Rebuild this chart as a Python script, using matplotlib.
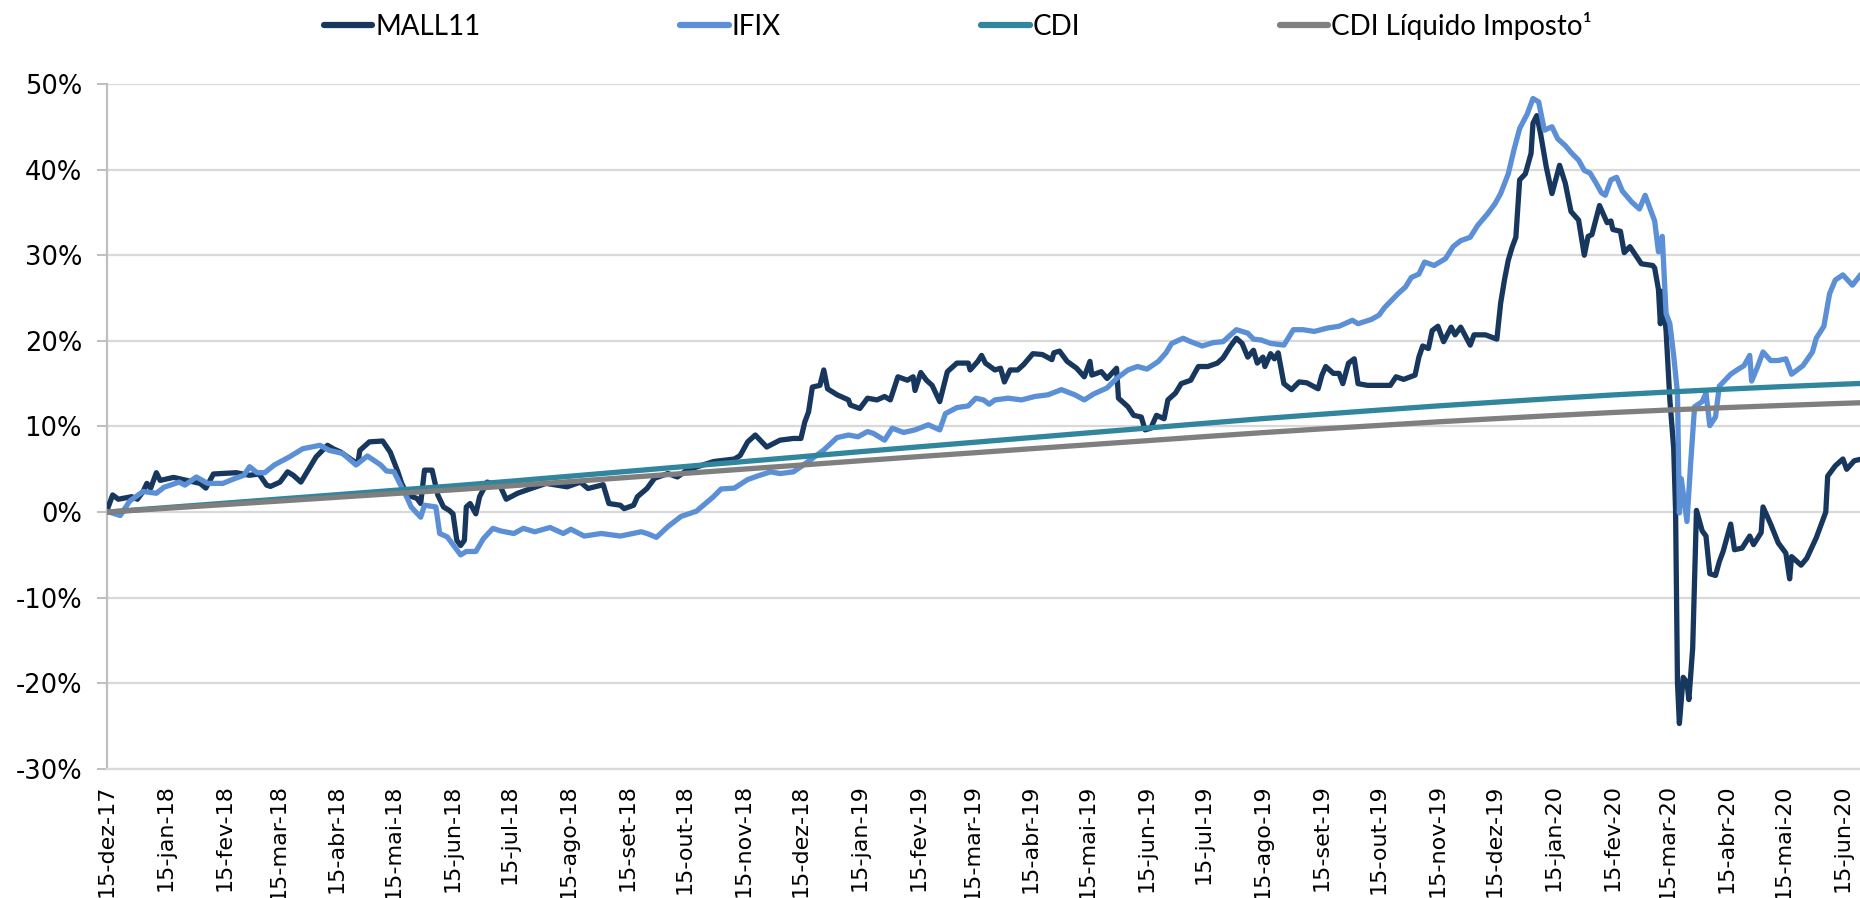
import matplotlib
matplotlib.use('Agg')
import matplotlib.pyplot as plt
from matplotlib.ticker import FuncFormatter
import pandas as pd

BASE = pd.Timestamp('2017-12-15')
X_END_DAYS = 922  # right edge of the visible window

# MALL11: days since 15-dez-17, cumulative return (%)
mall_days = [0, 3, 6, 13, 16, 19, 21, 23, 26, 28, 35, 40, 49, 52, 56, 68, 75, 80, 84, 86,
             91, 95, 98, 102, 110, 116, 119, 123, 130, 132, 133, 138, 145, 149, 153, 155,
             158, 163, 165, 167, 171, 174, 177, 180, 182, 184, 186, 188, 189, 191, 194, 196,
             200, 207, 210, 216, 223, 231, 242, 249, 253, 261, 264, 270, 272, 277, 279, 284,
             288, 295, 300, 305, 319, 330, 333, 337, 341, 347, 354, 361, 365, 367, 369, 371,
             375, 377, 379, 384, 390, 391, 396, 400, 405, 409, 412, 416, 421, 424, 425, 428,
             431, 434, 438, 442, 447, 453, 454, 458, 460, 462, 467, 470, 472, 475, 479, 482,
             487, 492, 497, 498, 501, 505, 510, 514, 517, 518, 523, 526, 531, 532, 537, 540,
             544, 546, 549, 552, 556, 558, 562, 565, 570, 574, 579, 584, 587, 591, 594, 597,
             600, 603, 605, 608, 609, 612, 614, 616, 619, 623, 627, 631, 637, 639, 641, 645,
             648, 650, 653, 656, 658, 663, 670, 675, 678, 682, 688, 690, 692, 695, 697, 700,
             703, 707, 709, 712, 717, 719, 725, 731, 733, 735, 737, 739, 741, 743, 746, 749,
             750, 752, 754, 757, 760, 764, 767, 770, 774, 777, 779, 781, 785, 789, 791, 792,
             796, 798, 801, 807, 813, 814, 816, 817, 818, 820, 822, 824, 825, 826, 827, 829,
             831, 832, 834, 836, 839, 841, 843, 846, 848, 850, 854, 856, 860, 864, 866, 870,
             871, 875, 879, 883, 885, 886, 891, 894, 899, 904, 905, 909, 913, 915, 919, 923, 927]
mall_vals = [0.2, 2.0, 1.5, 1.8, 1.5, 2.4, 3.35, 2.8, 4.6, 3.7, 4.05, 3.8, 3.35, 2.8, 4.45, 4.6,
             4.3, 4.45, 3.15, 3.0, 3.5, 4.7, 4.3, 3.5, 6.45, 7.8, 7.4, 7.0, 5.9, 5.7, 7.2, 8.2,
             8.3, 7.0, 4.7, 3.35, 2.0, 1.6, 1.0, 4.9, 4.9, 2.0, 0.6, 0.2, -0.2, -3.3, -3.9, -3.3,
             0.6, 1.0, -0.2, 1.8, 3.5, 2.95, 1.5, 2.2, 2.75, 3.35, 2.95, 3.5, 2.75, 3.2, 1.0, 0.8,
             0.4, 0.8, 1.8, 2.75, 3.95, 4.5, 4.1, 4.9, 5.9, 6.2, 6.6, 8.2, 9.0, 7.6, 8.4, 8.6,
             8.6, 10.5, 11.7, 14.6, 14.8, 16.6, 14.4, 13.7, 13.1, 12.5, 12.1, 13.3, 13.1, 13.5,
             13.1, 15.8, 15.4, 15.8, 14.2, 16.3, 15.4, 14.8, 12.9, 16.4, 17.4, 17.4, 16.6, 17.6,
             18.3, 17.4, 16.6, 16.8, 15.2, 16.6, 16.6, 17.2, 18.5, 18.4, 17.8, 18.6, 18.8, 17.6,
             16.8, 15.8, 17.6, 16.0, 16.4, 15.6, 16.8, 13.3, 12.3, 11.3, 11.1, 9.6, 9.8, 11.3,
             10.9, 13.1, 13.9, 15.0, 15.4, 17.0, 17.0, 17.4, 18.0, 19.4, 20.3, 19.7, 18.1, 18.9,
             17.4, 18.1, 17.0, 18.5, 17.9, 18.6, 15.0, 14.3, 15.2, 15.1, 14.4, 16.0, 17.0, 16.2,
             16.2, 15.0, 17.4, 17.9, 15.0, 14.8, 14.8, 14.8, 15.8, 15.5, 16.0, 18.1, 19.4, 19.1,
             21.2, 21.7, 19.9, 21.6, 20.7, 21.6, 19.5, 20.7, 20.7, 20.2, 24.4, 27.1, 29.4, 30.9,
             32.1, 38.8, 39.5, 41.9, 45.4, 46.3, 44.2, 40.3, 37.2, 40.5, 38.4, 35.1, 34.1, 30.0,
             32.2, 32.4, 35.8, 33.8, 34.0, 33.0, 32.8, 30.3, 31.0, 29.0, 28.8, 28.5, 26.0, 22.0,
             25.8, 21.2, 13.1, 7.5, 0.2, -19.9, -24.7, -19.3, -19.9, -21.9, -15.9, 0.2, -2.2,
             -2.8, -7.2, -7.4, -5.8, -4.6, -1.4, -4.4, -4.2, -2.8, -3.8, -2.4, 0.6, -1.4, -3.6,
             -4.8, -7.8, -5.2, -6.2, -5.4, -3.0, 0.0, 4.2, 5.4, 6.2, 5.0, 6.0, 6.2, 4.6]

# IFIX: days since 15-dez-17, cumulative return (%)
ifix_days = [0, 7, 12, 19, 26, 30, 38, 41, 47, 53, 61, 67, 72, 75, 79, 83, 88, 96, 103, 112,
             117, 124, 131, 137, 144, 147, 151, 154, 158, 160, 165, 167, 173, 175, 179, 186,
             189, 194, 198, 203, 207, 214, 219, 225, 233, 240, 244, 251, 260, 270, 281, 284,
             289, 295, 302, 310, 319, 323, 330, 337, 342, 349, 354, 361, 365, 370, 377, 384,
             390, 395, 400, 403, 409, 413, 419, 425, 432, 438, 441, 447, 453, 457, 461, 464,
             467, 474, 481, 488, 495, 502, 509, 514, 519, 526, 531, 537, 542, 547, 553, 557,
             560, 566, 570, 576, 582, 587, 594, 600, 603, 607, 612, 619, 624, 629, 635, 642,
             648, 655, 658, 665, 669, 672, 679, 683, 686, 690, 693, 698, 704, 708, 712, 717,
             721, 726, 730, 733, 737, 740, 743, 747, 750, 753, 756, 760, 763, 767, 770, 774,
             777, 780, 783, 786, 788, 791, 794, 797, 802, 806, 809, 814, 816, 818, 820, 822,
             824, 826, 827, 828, 831, 833, 835, 839, 841, 843, 846, 848, 854, 858, 861, 864,
             865, 868, 871, 875, 879, 883, 886, 892, 897, 899, 903, 906, 909, 913, 918, 923, 927]
ifix_vals = [0.1, -0.4, 1.3, 2.4, 2.2, 2.9, 3.5, 3.15, 4.1, 3.35, 3.35, 3.9, 4.3, 5.3, 4.6, 4.6,
             5.5, 6.45, 7.4, 7.8, 7.2, 6.85, 5.5, 6.55, 5.5, 4.8, 4.7, 3.35, 1.6, 0.6, -0.6, 0.8,
             0.6, -2.5, -2.9, -5.0, -4.6, -4.6, -3.1, -1.9, -2.2, -2.5, -1.9, -2.3, -1.8, -2.5,
             -2.0, -2.8, -2.5, -2.8, -2.3, -2.5, -2.95, -1.7, -0.5, 0.1, 1.8, 2.7, 2.8, 3.8, 4.2,
             4.7, 4.5, 4.7, 5.3, 6.1, 7.25, 8.7, 9.0, 8.8, 9.4, 9.2, 8.4, 9.8, 9.3, 9.6, 10.2,
             9.6, 11.5, 12.2, 12.4, 13.3, 13.1, 12.6, 13.1, 13.3, 13.1, 13.5, 13.7, 14.3, 13.7,
             13.1, 13.8, 14.5, 15.6, 16.6, 17.0, 16.7, 17.6, 18.6, 19.7, 20.3, 19.9, 19.4, 19.8,
             19.9, 21.3, 20.9, 20.2, 20.1, 19.7, 19.5, 21.3, 21.3, 21.1, 21.5, 21.7, 22.4, 22.0,
             22.5, 23.0, 23.9, 25.5, 26.3, 27.4, 27.8, 29.2, 28.8, 29.6, 31.0, 31.7, 32.1, 33.5,
             34.8, 36.0, 37.2, 39.5, 42.3, 44.8, 46.5, 48.3, 47.9, 44.6, 45.0, 43.6, 42.8, 42.0,
             41.1, 39.9, 39.6, 38.5, 37.3, 37.0, 38.8, 39.1, 37.5, 36.2, 35.4, 37.0, 34.0, 30.4,
             32.2, 23.2, 22.0, 18.3, 13.9, -0.1, 3.9, -1.1, 5.9, 12.3, 12.9, 13.9, 10.1, 11.1,
             14.7, 16.1, 16.7, 17.1, 18.3, 15.3, 16.9, 18.7, 17.7, 17.7, 17.9, 16.1, 17.1, 18.7,
             20.3, 21.7, 25.5, 27.1, 27.7, 26.5, 27.9, 27.1]

# CDI and CDI net of tax, monthly (15th of each month from dez-17), cumulative (%)
cdi_vals = [0.0, 0.52, 1.04, 1.51, 2.03, 2.54, 3.06, 3.60, 4.18, 4.76, 5.32, 5.90, 6.46, 7.05,
            7.62, 8.13, 8.70, 9.25, 9.81, 10.36, 10.92, 11.43, 11.91, 12.40, 12.83, 13.27,
            13.68, 14.02, 14.36, 14.66, 14.94, 15.20]
cdi_liq_vals = [0.0, 0.44, 0.88, 1.28, 1.73, 2.16, 2.60, 3.06, 3.55, 4.05, 4.52, 5.02, 5.49,
                5.99, 6.48, 6.91, 7.40, 7.86, 8.34, 8.81, 9.28, 9.72, 10.12, 10.54, 10.91,
                11.28, 11.63, 11.92, 12.21, 12.46, 12.70, 12.92]

PT_MONTHS = ['jan', 'fev', 'mar', 'abr', 'mai', 'jun', 'jul', 'ago', 'set', 'out', 'nov', 'dez']

COLOURS = {
    'MALL11': '#17375e',
    'IFIX': '#5b8fd6',
    'CDI': '#31859c',
    'CDI Líquido Imposto¹': '#7f7f7f',
}

mall_dates = BASE + pd.to_timedelta(mall_days, unit='D')
ifix_dates = BASE + pd.to_timedelta(ifix_days, unit='D')
cdi_dates = pd.date_range(BASE, periods=len(cdi_vals), freq=pd.DateOffset(months=1))
tick_dates = pd.date_range(BASE, '2020-06-15', freq=pd.DateOffset(months=1))
tick_labels = [f"15-{PT_MONTHS[d.month - 1]}-{d.year % 100:02d}" for d in tick_dates]

fig = plt.figure(figsize=(18.6, 8.98), dpi=100)
ax = fig.add_axes([0.0575, 0.1437, 0.9425, 0.7628])

lw = 3.8
series = [
    (mall_dates, mall_vals, 'MALL11'),
    (ifix_dates, ifix_vals, 'IFIX'),
    (cdi_dates, cdi_vals, 'CDI'),
    (cdi_dates, cdi_liq_vals, 'CDI Líquido Imposto¹'),
]
for i, (x, y, name) in enumerate(series):
    ax.plot(x, y, color=COLOURS[name], lw=lw, label=name, zorder=3 + i,
            solid_joinstyle='round', solid_capstyle='round')

ax.set_xlim(BASE, BASE + pd.Timedelta(days=X_END_DAYS))
ax.set_ylim(-30, 50)
ax.set_yticks(range(-30, 51, 10))
ax.yaxis.set_major_formatter(FuncFormatter(lambda v, _: f"{v:.0f}%"))
ax.set_xticks(tick_dates)
ax.set_xticklabels(tick_labels, rotation=90, ha='center', va='top')

ax.grid(axis='y', color='#d9d9d9', lw=1.6, zorder=0)
ax.set_axisbelow(True)
for s in ['top', 'right']:
    ax.spines[s].set_visible(False)
ax.spines['left'].set_color('#bfbfbf')
ax.spines['left'].set_linewidth(1.6)
ax.spines['bottom'].set_color('#d9d9d9')
ax.spines['bottom'].set_linewidth(1.6)

ax.tick_params(axis='y', length=7, width=1.4, color='#bfbfbf', pad=11,
               labelsize=18.5, labelcolor='black')
ax.tick_params(axis='x', length=0, pad=11, labelsize=16, labelcolor='black')

handles, labels = ax.get_legend_handles_labels()
leg = fig.legend(handles, labels, loc='center', bbox_to_anchor=(0.515, 0.971), ncol=4,
                 frameon=False, handlelength=1.75, handletextpad=0.1, columnspacing=7.2,
                 prop={'family': ['Lato', 'DejaVu Sans'], 'size': 20})
for line in leg.get_lines():
    line.set_linewidth(4.5)
    line.set_solid_capstyle('round')

fig.savefig('out.png', dpi=100)
